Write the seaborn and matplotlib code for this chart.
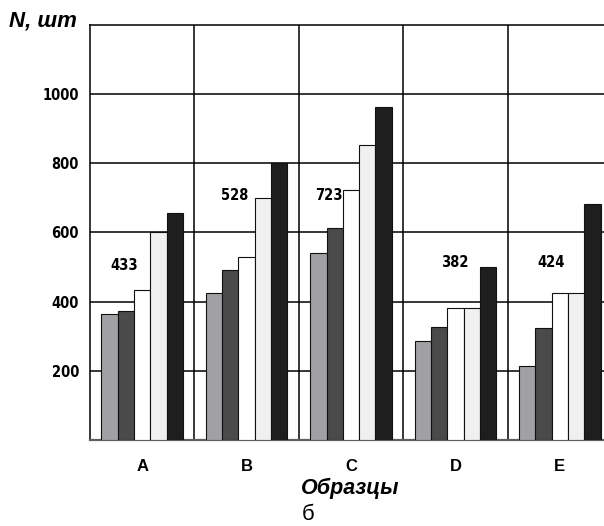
import matplotlib
matplotlib.use("Agg")
import matplotlib.pyplot as plt
import seaborn as sns
import pandas as pd

samples = ["A", "B", "C", "D", "E"]
series_names = ["s1", "s2", "s3", "s4", "s5"]
s1 = [364, 426, 541, 285, 214]
s2 = [372, 491, 612, 327, 323]
s3 = [433, 528, 723, 382, 424]
s4 = [600, 700, 854, 382, 424]
s5 = [655, 800, 963, 500, 681]
colors = ["#a0a0a6", "#4a4a4a", "#ffffff", "#f0f0f0", "#1e1e1e"]
yticks = [200, 400, 600, 800, 1000]
# value labels (values of the 3rd series), positions
label_dx = [-0.17, -0.11, -0.21, -0.01, -0.08]
label_y = [506, 707, 706, 512, 512]

rows = []
for name, vals in zip(series_names, [s1, s2, s3, s4, s5]):
    for smp, v in zip(samples, vals):
        rows.append({"sample": smp, "series": name, "N": v})
df = pd.DataFrame(rows)

sns.set_style("white")
plt.rcParams["font.family"] = ["Liberation Sans", "DejaVu Sans"]
plt.rcParams["text.color"] = "black"
plt.rcParams["xtick.color"] = "black"
plt.rcParams["ytick.color"] = "black"

fig = plt.figure(figsize=(6.04, 5.26), dpi=100)
ax = fig.add_axes([90 / 604, 86 / 526, 522 / 604, 415 / 526])

sns.barplot(data=df, x="sample", y="N", hue="series", palette=colors,
            width=0.78, edgecolor="#111111", linewidth=0.8, legend=False, ax=ax,
            zorder=3)

ax.set_ylim(0, 1200)
ax.set_xlim(-0.5, 4.5)
ax.set_yticks(yticks)
narrow = dict(family="DejaVu Sans", fontstretch="condensed", fontweight="bold")
ax.set_yticklabels([str(t) for t in yticks], fontsize=10.5, **narrow)
ax.set_xticks(range(len(samples)))
ax.set_xticklabels(samples, fontsize=12, fontweight="bold")
ax.tick_params(axis="y", length=3, width=1, color="black", pad=5, direction="out",
               labelcolor="black")
ax.tick_params(axis="x", length=0, pad=14, labelcolor="black")
ax.set_xlabel("")
ax.set_ylabel("")

for y in yticks:
    ax.axhline(y, color="black", lw=1.1, zorder=1)
for x in [0.5, 1.5, 2.5, 3.5]:
    ax.axvline(x, color="black", lw=1.1, zorder=1)

for s in ["top", "left"]:
    ax.spines[s].set_color("black")
    ax.spines[s].set_linewidth(1.1)
ax.spines["right"].set_visible(False)
ax.spines["bottom"].set_color("#606060")
ax.spines["bottom"].set_linewidth(1.6)

for i, (dx, ly, v) in enumerate(zip(label_dx, label_y, s3)):
    ax.text(i + dx, ly, str(v), ha="center", va="center", fontsize=10.5,
            zorder=5, color="black", **narrow)

fig.text(9 / 604, 1 - 21 / 526, "N, шт", fontsize=16, fontweight="bold",
         style="italic", ha="left", va="center", color="black")
fig.text(301 / 604, 1 - 488 / 526, "Образцы", fontsize=15.5, fontweight="bold",
         style="italic", ha="left", va="center", color="black")
fig.text(302 / 604, 1 - 514 / 526, "б", fontsize=16, ha="left", va="center",
         color="black")

fig.savefig("out.png", dpi=100)
